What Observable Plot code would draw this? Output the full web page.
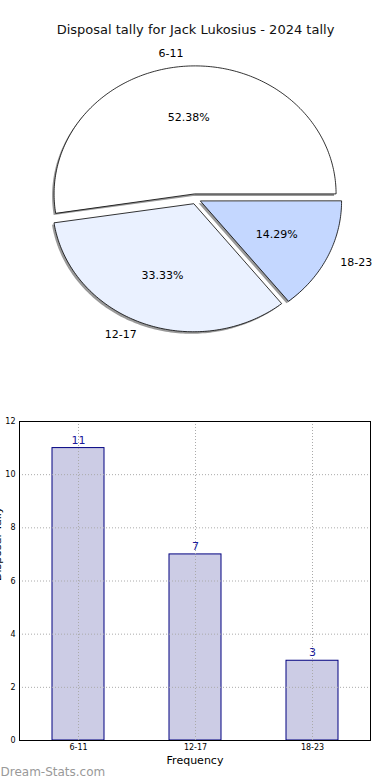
<!DOCTYPE html>
<html>
<head>
<meta charset="utf-8">
<script src="https://cdn.jsdelivr.net/npm/d3@7"></script>
<script src="https://cdn.jsdelivr.net/npm/@observablehq/plot@0.6"></script>
<style>
  html, body { margin: 0; padding: 0; background: #fff; }
  body { width: 390px; height: 780px; overflow: hidden; font-family: "DejaVu Sans", sans-serif; }
  #chart svg { display: block; overflow: visible; }
</style>
</head>
<body>
<div id="chart"></div>
<script>
// ---- data ----
const titleText = "Disposal tally for Jack Lukosius - 2024 tally";
const categories = ["6-11", "12-17", "18-23"];
const counts = [11, 7, 3];
const yTicks = [0, 2, 4, 6, 8, 10, 12];
const xLabel = "Frequency";
const yLabel = "Disposal Tally";
const watermark = "Dream-Stats.com";

// ---- styles ----
const sliceColors = ["#ffffff", "#eaf1ff", "#c4d7ff"];
const barFill = "#cccce5";
const barStroke = "#000080";
const font = "DejaVu Sans, sans-serif";

// ---- pie geometry (derived from data) ----
const total = d3.sum(counts);
const explode = 0.04;
const wedges = [];
let start = 0;
categories.forEach((cat, i) => {
  const span = counts[i] / total * 360;
  const a0 = start, a1 = start + span, mid = (a0 + a1) / 2;
  const rad = mid * Math.PI / 180;
  const cx = explode * Math.cos(rad), cy = explode * Math.sin(rad);
  wedges.push({cat, a0, a1, mid, cx, cy, pct: (counts[i] / total * 100).toFixed(2) + "%"});
  start = a1;
});
const piePoints = [];
wedges.forEach(w => {
  piePoints.push({cat: w.cat, x: w.cx, y: w.cy});
  const n = Math.max(2, Math.ceil((w.a1 - w.a0) / 1));
  for (let k = 0; k <= n; k++) {
    const a = (w.a0 + (w.a1 - w.a0) * k / n) * Math.PI / 180;
    piePoints.push({cat: w.cat, x: w.cx + Math.cos(a), y: w.cy + Math.sin(a)});
  }
});
const labels = wedges.map(w => {
  const r = w.mid * Math.PI / 180;
  return {text: w.cat, x: w.cx + 1.1 * Math.cos(r), y: w.cy + 1.1 * Math.sin(r), anchor: Math.cos(r) >= 0 ? "start" : "end"};
});
const pcts = wedges.map(w => {
  const r = w.mid * Math.PI / 180;
  return {text: w.pct, x: w.cx + 0.6 * Math.cos(r), y: w.cy + 0.6 * Math.sin(r)};
});

const pie = Plot.plot({
  width: 390, height: 390, margin: 0,
  style: {fontFamily: font, background: "white"},
  x: {domain: [-1, 1], range: [54, 336], axis: null},
  y: {domain: [-1, 1], range: [326.5, 70.5], axis: null},
  color: {domain: categories, range: sliceColors},
  marks: [
    Plot.line(piePoints, {x: "x", y: "y", z: "cat", fill: "#555", fillOpacity: 0.6, stroke: "none", curve: "linear-closed", dx: -2, dy: 2}),
    Plot.line(piePoints, {x: "x", y: "y", z: "cat", fill: "cat", stroke: "black", strokeWidth: 0.8, curve: "linear-closed"}),
    Plot.text(labels.filter(d => d.anchor === "start"), {x: "x", y: "y", text: "text", textAnchor: "start", fontSize: 11, fill: "black"}),
    Plot.text(labels.filter(d => d.anchor === "end"), {x: "x", y: "y", text: "text", textAnchor: "end", fontSize: 11, fill: "black"}),
    Plot.text(pcts, {x: "x", y: "y", text: "text", fontSize: 11, fill: "black"}),
    Plot.text([titleText], {frameAnchor: "top", text: d => d, dy: 24, fontSize: 13, fontWeight: "normal", fill: "#111"})
  ]
});

const barData = categories.map((c, i) => ({cat: c, count: counts[i]}));
const bars = Plot.plot({
  width: 390, height: 390,
  marginTop: 31, marginBottom: 40, marginLeft: 19, marginRight: 20,
  style: {fontFamily: font, background: "white", fontSize: "8px"},
  x: {domain: categories, paddingInner: 0.556, paddingOuter: 0.278, label: null},
  y: {domain: [0, 12], label: null},
  marks: [
    Plot.barY(barData, {x: "cat", y: "count", fill: barFill, stroke: barStroke, strokeWidth: 1}),
    Plot.gridY(yTicks, {stroke: "#aaa", strokeOpacity: 1, strokeDasharray: "1,2"}),
    Plot.gridX(categories, {stroke: "#aaa", strokeOpacity: 1, strokeDasharray: "1,2"}),
    Plot.axisY(yTicks, {tickSize: 0, tickPadding: 4, fontSize: 8, fill: "black", label: null}),
    Plot.axisX(categories, {tickSize: 0, tickPadding: 4, fontSize: 8, fill: "black", label: null}),
    Plot.frame({stroke: "black"}),
    Plot.text(barData, {x: "cat", y: "count", text: d => String(d.count), dy: -8, fontSize: 11, fill: "#1a1a9a"}),
    Plot.text([xLabel], {frameAnchor: "bottom", text: d => d, dy: 23, fontSize: 11, fill: "black"}),
    Plot.text([yLabel], {frameAnchor: "left", text: d => d, rotate: -90, dx: -22, fontSize: 11, fill: "black"}),
    Plot.text([watermark], {frameAnchor: "bottom-left", text: d => d, textAnchor: "start", dx: -19, dy: 35, fontSize: 12, fontWeight: "normal", fill: "#999"})
  ]
});

document.getElementById("chart").append(pie, bars);
</script>
</body>
</html>
